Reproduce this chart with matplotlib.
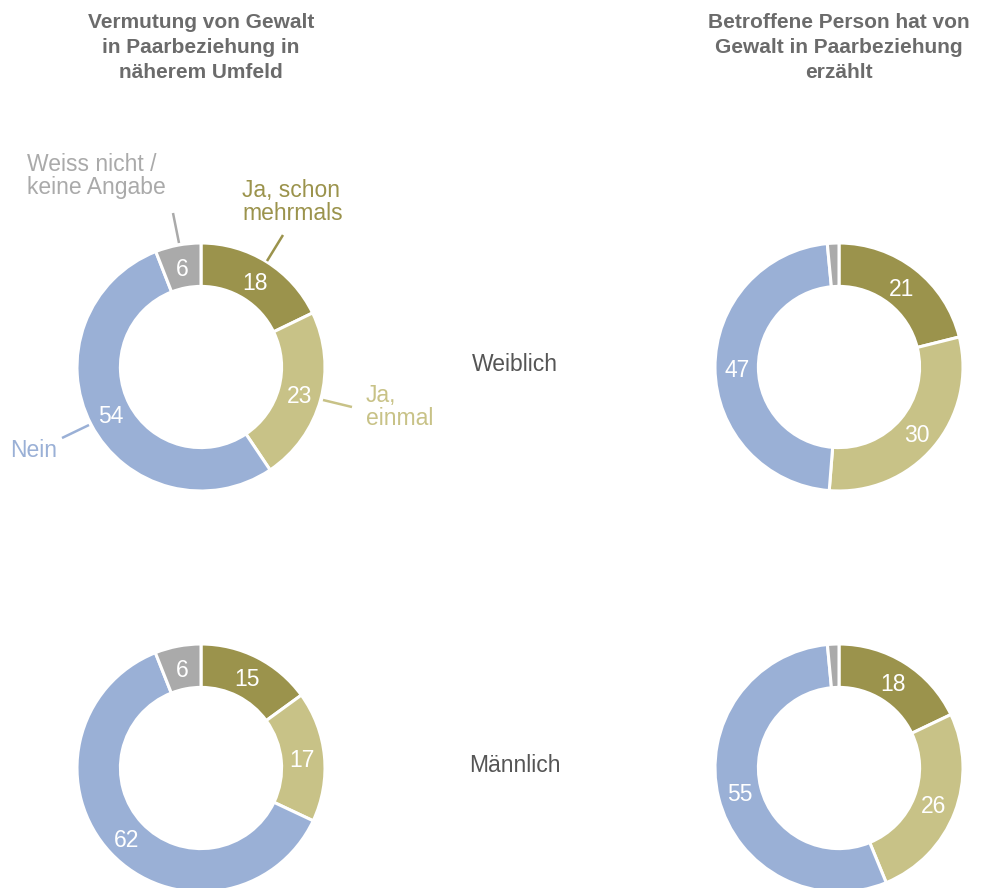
import numpy as np
import matplotlib
matplotlib.use("Agg")
import matplotlib.pyplot as plt

plt.rcParams['font.family'] = ['Liberation Sans', 'DejaVu Sans']

categories = ["Ja, schon\nmehrmals", "Ja,\neinmal", "Nein", "Weiss nicht /\nkeine Angabe"]
colors = ["#9b934c", "#c8c287", "#9ab0d6", "#aaaaaa"]
col_titles = ["Vermutung von Gewalt\nin Paarbeziehung in\nnäherem Umfeld",
              "Betroffene Person hat von\nGewalt in Paarbeziehung\nerzählt"]
row_labels = ["Weiblich", "Männlich"]

vermutung_weiblich = [18, 23, 54, 6]
vermutung_maennlich = [15, 17, 62, 6]
erzaehlt_weiblich = [21, 30, 47, 1.5]
erzaehlt_maennlich = [18, 26, 55, 1.5]
show_value = [[True, True, True, True], [True, True, True, False]]

W, H = 984, 888
R = 124.0
S = 200.0
fig = plt.figure(figsize=(W / 100, H / 100), dpi=100)

centers_x = [201, 839]
centers_y = [367, 768]
data = [[vermutung_weiblich, erzaehlt_weiblich], [vermutung_maennlich, erzaehlt_maennlich]]

axes = {}
for r in range(2):
    for c in range(2):
        cx, cy = centers_x[c], centers_y[r]
        ax = fig.add_axes([(cx - S) / W, 1 - (cy + S) / H, 2 * S / W, 2 * S / H])
        vals = data[r][c]
        wedges, _ = ax.pie(vals, colors=colors, startangle=90, counterclock=False,
                           radius=1, wedgeprops=dict(width=0.35, edgecolor='white', linewidth=2.2))
        ax.set_xlim(-S / R, S / R)
        ax.set_ylim(-S / R, S / R)
        ax.set_aspect('equal')
        ax.axis('off')
        for i, w in enumerate(wedges):
            if not show_value[c][i]:
                continue
            ang = np.deg2rad((w.theta1 + w.theta2) / 2)
            rr = 0.82
            ax.text(rr * np.cos(ang), rr * np.sin(ang) - 0.02, f"{vals[i]:g}", ha='center',
                    va='center', color='white', fontsize=16.5)
        axes[(r, c)] = ax

# category labels on top-left donut
ax = axes[(0, 0)]
def px(p, q):
    return ((p - 201) / R, -(q - 367) / R)

label_specs = [
    ((242, 202), (283, 235), (267, 261)),
    ((366, 407), (352, 407), (323, 400)),
    ((10, 450), (62, 438), (89, 425)),
    ((27, 176), (173, 213), (179, 243)),
]
for i, (tpos, l0, l1) in enumerate(label_specs):
    x, y = px(*tpos)
    ax.text(x, y, categories[i], ha='left', va='center', color=colors[i], fontsize=16.5,
            linespacing=1.05)
    a0 = px(*l0)
    a1 = px(*l1)
    ax.plot([a0[0], a1[0]], [a0[1], a1[1]], color=colors[i], lw=1.8, clip_on=False,
            solid_capstyle='butt')

for c in range(2):
    fig.text(centers_x[c] / W, 1 - 13 / H, col_titles[c], ha='center', va='top',
             fontsize=15, fontweight='bold', color='#6b6b6b', linespacing=1.4)

for r in range(2):
    fig.text(515 / W, 1 - (centers_y[r] - 3) / H, row_labels[r], ha='center', va='center',
             fontsize=16.5, color='#555555')

fig.savefig("out.png", dpi=100)
